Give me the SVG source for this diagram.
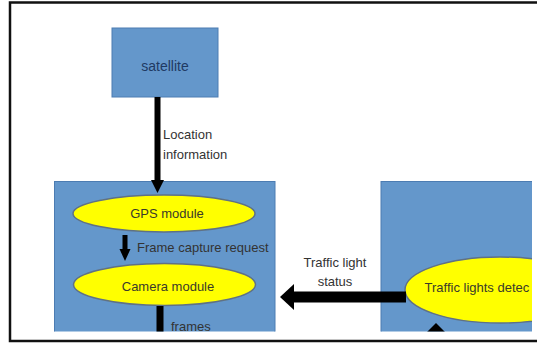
<svg xmlns="http://www.w3.org/2000/svg" width="537" height="343" viewBox="0 0 537 343">
  <defs>
    <style>
      .box { fill: #6497cb; stroke: #4c7cb2; stroke-width: 1; }
      .ell { fill: #ffff00; stroke: #5f7185; stroke-width: 1.5; }
      .lbl { font-family: "Liberation Sans", Arial, sans-serif; font-size: 13px; fill: #333333; }
      .etxt { font-family: "Liberation Sans", Arial, sans-serif; font-size: 13px; fill: #3a3a2a; text-anchor: middle; }
      .stxt { font-family: "Liberation Sans", Arial, sans-serif; font-size: 14px; fill: #1f3a63; text-anchor: middle; }
      .shaft { stroke: #000000; fill: none; }
      .head { fill: #000000; }
    </style>
    <clipPath id="area">
      <rect x="0" y="0" width="532" height="331.5"/>
    </clipPath>
  </defs>
  <rect x="0" y="0" width="537" height="343" fill="#ffffff"/>
  <g clip-path="url(#area)">
    <g id="satellite">
      <rect class="box" x="112" y="28" width="106" height="69"/>
      <text class="stxt" x="165" y="71">satellite</text>
    </g>
    <g id="phone-box">
      <rect class="box" x="54.5" y="181.5" width="220.5" height="160"/>
    </g>
    <g id="server-box">
      <rect class="box" x="381" y="181.5" width="170" height="160"/>
    </g>
    <g id="gps-module">
      <ellipse class="ell" cx="164" cy="213.5" rx="91" ry="18.5"/>
      <text class="etxt" x="167" y="218">GPS module</text>
    </g>
    <g id="camera-module">
      <ellipse class="ell" cx="164.5" cy="284.5" rx="91" ry="21"/>
      <text class="etxt" x="168" y="291">Camera module</text>
    </g>
    <g id="traffic-lights-detection">
      <ellipse class="ell" cx="500" cy="290" rx="95" ry="33"/>
      <text class="lbl" x="424.5" y="292" style="fill:#3a3a2a">Traffic lights detec</text>
    </g>
    <g id="connectors">
      <line class="shaft" x1="157.5" y1="97" x2="157.5" y2="182" stroke-width="6"/>
      <polygon class="head" points="151,180 164,180 157.5,193"/>
      <line class="shaft" x1="125" y1="235" x2="125" y2="251" stroke-width="5"/>
      <polygon class="head" points="119.5,249 130.5,249 125,261"/>
      <line class="shaft" x1="160" y1="306" x2="160" y2="340" stroke-width="7"/>
      <line class="shaft" x1="292" y1="297" x2="406" y2="297" stroke-width="11"/>
      <polygon class="head" points="294,284 294,310 280,297"/>
      <polygon class="head" points="436,323 423,336 449,336"/>
    </g>
    <g id="labels">
      <text class="lbl" x="163" y="139">Location</text>
      <text class="lbl" x="163" y="159">information</text>
      <text class="lbl" x="137" y="252">Frame capture request</text>
      <text class="lbl" x="335" y="267" text-anchor="middle">Traffic light</text>
      <text class="lbl" x="335" y="286" text-anchor="middle">status</text>
      <text class="lbl" x="171" y="331">frames</text>
    </g>
  </g>
  <path d="M537,2.5 H10 V341 H537" fill="none" stroke="#111111" stroke-width="2.5"/>
</svg>
